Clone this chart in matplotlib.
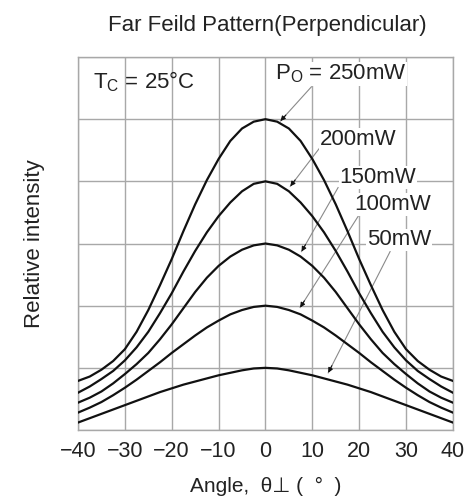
import numpy as np
import matplotlib
matplotlib.use('Agg')
import matplotlib.pyplot as plt

plt.rcParams['font.family'] = ['Liberation Sans', 'DejaVu Sans']
plt.rcParams['mathtext.fontset'] = 'custom'
plt.rcParams['mathtext.rm'] = 'Liberation Sans'
plt.rcParams['mathtext.it'] = 'Liberation Sans'

# half profile (0..40 deg), the pattern is symmetric
half_angle = [0, 2.5, 5, 7.5, 10, 12.5, 15, 17.5, 20, 22.5, 25, 27.5, 30, 32.5, 35, 37.5, 40]
p250 = [5.0, 4.96, 4.85, 4.65, 4.36, 4.02, 3.63, 3.20, 2.75, 2.33, 1.93, 1.58, 1.30, 1.11, 0.97, 0.86, 0.79]
p200 = [4.0, 3.96, 3.84, 3.66, 3.44, 3.18, 2.88, 2.55, 2.20, 1.88, 1.58, 1.33, 1.12, 0.95, 0.82, 0.70, 0.60]
p150 = [3.0, 2.97, 2.90, 2.79, 2.64, 2.45, 2.22, 1.96, 1.70, 1.46, 1.24, 1.06, 0.90, 0.75, 0.62, 0.52, 0.44]
p100 = [2.0, 1.98, 1.93, 1.86, 1.76, 1.65, 1.52, 1.38, 1.24, 1.09, 0.95, 0.81, 0.68, 0.56, 0.45, 0.36, 0.28]
p050 = [1.0, 0.99, 0.96, 0.92, 0.88, 0.83, 0.78, 0.73, 0.67, 0.61, 0.54, 0.47, 0.40, 0.33, 0.26, 0.19, 0.12]

labels = ['P$_{\\rm O}$ = 250mW', '200mW', '150mW', '100mW', '50mW']
label_xy = [(2.0, 5.73), (11.6, 4.68), (15.8, 4.06), (18.9, 3.63), (21.7, 3.06)]
arrow_tail = [(9.8, 5.52), (11.7, 4.55), (15.5, 3.90), (19.8, 3.44), (26.6, 2.87)]
arrow_head = [(3.2, 4.97), (5.3, 3.92), (7.7, 2.87), (7.4, 1.97), (13.4, 0.92)]

xticks = [-40, -30, -20, -10, 0, 10, 20, 30, 40]
xticklabels = ['\u221240', '\u221230', '\u221220', '\u221210', '0', '10', '20', '30', '40']


def mirror(v):
    v = np.array(v)
    return np.concatenate([v[:0:-1], v])


ang = mirror(half_angle)
ang[:len(half_angle) - 1] *= -1

fig = plt.figure(figsize=(4.68, 5.01), dpi=100)
ax = fig.add_axes([0.1667, 0.1417, 0.801, 0.7445])
txt = '#222222'
grid_c = '#a8a8a8'

for p in [p250, p200, p150, p100, p050]:
    ax.plot(ang, mirror(p), color='#111111', lw=1.6, zorder=3)

ax.set_xlim(-40, 40)
ax.set_ylim(0, 6)
ax.set_xticks(xticks)
ax.set_xticklabels(xticklabels)
ax.set_yticks(range(7))
ax.set_yticklabels([])
ax.tick_params(length=0, labelsize=15.5, labelcolor=txt, pad=8)
ax.grid(True, color=grid_c, lw=1)
for s in ax.spines.values():
    s.set_color(grid_c)
    s.set_linewidth(1)

fig.text(0.571, 0.949, 'Far Feild Pattern(Perpendicular)', ha='center', va='center',
         fontsize=16, color=txt)
ax.set_xlabel('Angle,  \u03b8\u22a5 (  \u00b0  )', fontsize=15, color=txt, labelpad=11)
ax.set_ylabel('Relative intensity', fontsize=16, color=txt, labelpad=16)

ax.text(-36.8, 5.6, 'T$_{\\rm C}$ = 25\u00b0C', fontsize=16, color=txt, va='center', ha='left')

for lab, xy in zip(labels, label_xy):
    ax.text(xy[0], xy[1], lab, fontsize=16, color=txt, va='center', ha='left', zorder=4,
            bbox=dict(facecolor='white', edgecolor='none', pad=0.5))

fig.canvas.draw()
for t, h in zip(arrow_tail, arrow_head):
    ax.plot([t[0], h[0]], [t[1], h[1]], color='#8a8a8a', lw=0.8, zorder=2)
    pt = ax.transData.transform(t)
    ph = ax.transData.transform(h)
    d = (pt - ph) / np.hypot(*(pt - ph))
    back = ax.transData.inverted().transform(ph + d * 8)
    ax.annotate('', xy=h, xytext=back,
                arrowprops=dict(arrowstyle='-|>', color='#111111', lw=0.8,
                                mutation_scale=7, shrinkA=0, shrinkB=0), zorder=5)

fig.savefig('out.png', dpi=100)
